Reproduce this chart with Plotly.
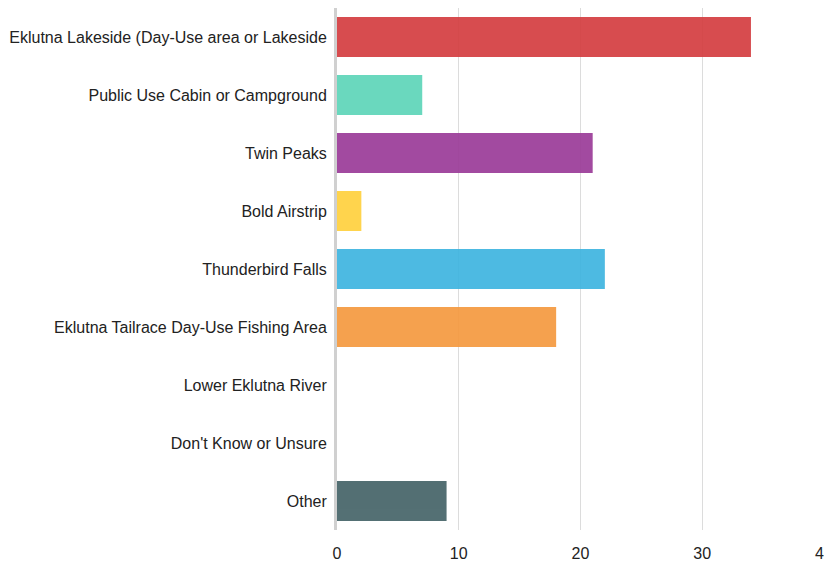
import plotly.graph_objects as go

categories = [
    "Eklutna Lakeside (Day-Use area or Lakeside",
    "Public Use Cabin or Campground",
    "Twin Peaks",
    "Bold Airstrip",
    "Thunderbird Falls",
    "Eklutna Tailrace Day-Use Fishing Area",
    "Lower Eklutna River",
    "Don't Know or Unsure",
    "Other",
]
values = [34, 7, 21, 2, 22, 18, 0, 0, 9]
colors = ["#d43f42", "#5fd6ba", "#9c3d99", "#ffd140", "#40b5e0", "#f59a41", "#999999", "#999999", "#476569"]
x_ticks = [0, 10, 20, 30, 40]

fig = go.Figure(go.Bar(
    y=categories, x=values, orientation="h",
    marker=dict(color=colors, line=dict(width=0)),
    opacity=0.93,
    hoverinfo="x+y",
))

fig.update_layout(
    width=824, height=559,
    margin=dict(l=329, r=8, t=0, b=37, autoexpand=False),
    plot_bgcolor="white", paper_bgcolor="white",
    bargap=0.31,
    showlegend=False,
    font=dict(family="Liberation Sans, Arial, sans-serif", size=16, color="#222222"),
)
fig.update_xaxes(
    range=[0, 40], tickvals=x_ticks, showgrid=True, gridcolor="#dcdcdc", gridwidth=1,
    zeroline=False, showline=False, ticks="", tickfont=dict(size=16, color="#222"),
    automargin=False, ticklabelstandoff=12, ticklabeloverflow="allow",
)
fig.update_yaxes(
    categoryorder="array", categoryarray=categories, autorange="reversed",
    showgrid=False, ticks="", ticklabelstandoff=4, showline=True, linecolor="#d0d0d0", linewidth=3,
    tickfont=dict(size=16, color="#222"), automargin=False,
)

fig.write_html("out.html")
